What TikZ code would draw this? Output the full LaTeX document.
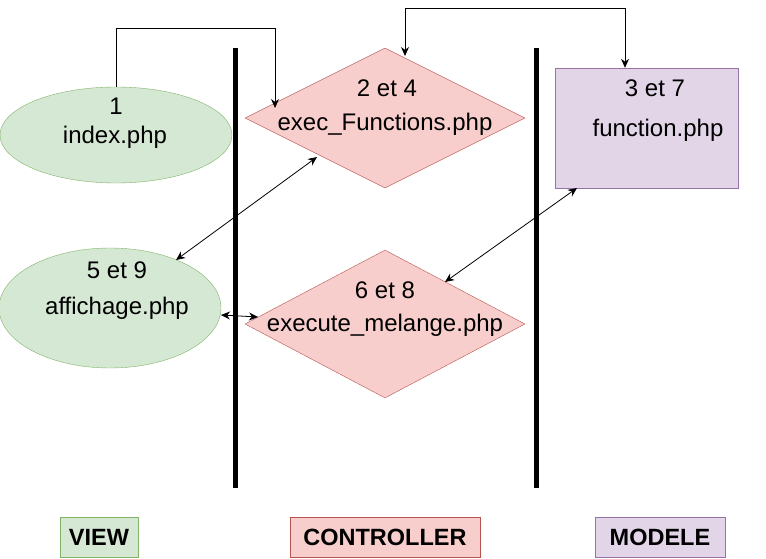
\documentclass[tikz,border=0pt]{standalone}
\usepackage{fontspec}
\setmainfont{Liberation Sans}
\usetikzlibrary{shapes.geometric,arrows.meta}
\definecolor{vfill}{HTML}{D5E8D4}\definecolor{vdraw}{HTML}{82B366}
\definecolor{cfill}{HTML}{F8CECC}\definecolor{cdraw}{HTML}{B85450}
\definecolor{mfill}{HTML}{E1D5E7}\definecolor{mdraw}{HTML}{9673A6}
\tikzset{
  txt/.style={font=\fontsize{24}{28}\selectfont, inner sep=0pt},
  viewell/.style={ellipse, draw=vdraw, fill=vfill, inner sep=0pt},
  ctrl/.style={diamond, draw=cdraw, fill=cfill, inner sep=0pt, aspect=2},
  modbox/.style={draw=mdraw, fill=mfill, inner sep=0pt},
  lbl/.style={font=\fontsize{23.5}{28}\selectfont\bfseries, inner sep=0pt, minimum height=40pt},
  sep/.style={line width=5pt},
  conn/.style={-{Stealth[length=9pt,width=8pt]}, line width=0.8pt},
  dconn/.style={{Stealth[length=9pt,width=8pt]}-{Stealth[length=9pt,width=8pt]}, line width=0.8pt},
}
\begin{document}
\begin{tikzpicture}[x=1pt,y=-1pt]
\useasboundingbox (0,0) rectangle (766,559);
% separators
\draw[sep] (235,48) coordinate (s1a) -- (235,488) coordinate (s1b);
\draw[sep] (536,48) coordinate (s2a) -- (536,488) coordinate (s2b);
% shapes
\node[viewell, minimum width=232pt, minimum height=96pt] (idx) at (116,135) {};
\node[txt] at (116,106) {1};
\node[txt] at (115,137) {index.php};
\node[viewell, minimum width=222pt, minimum height=120pt] (aff) at (110,308) {};
\node[txt] at (117,270) {5 et 9};
\node[txt] at (117,308) {affichage.php};
\node[ctrl, minimum width=280pt, minimum height=140pt] (exf) at (385,118) {};
\node[txt] at (387,88) {2 et 4};
\node[txt] at (385,124) {exec\_Functions.php};
\node[ctrl, minimum width=280pt, minimum height=148pt] (exm) at (385,324) {};
\node[txt] at (385,290) {6 et 8};
\node[txt] at (385,325) {execute\_melange.php};
\node[modbox, minimum width=183pt, minimum height=120pt] (fun) at (646.5,128) {};
\node[txt] at (655,88) {3 et 7};
\node[txt] at (658,130) {function.php};
% labels
\node[lbl, draw=vdraw, fill=vfill, minimum width=78pt] (lv) at (99,537) {VIEW};
\node[lbl, draw=cdraw, fill=cfill, minimum width=190pt] (lc) at (385,537) {CONTROLLER};
\node[lbl, draw=mdraw, fill=mfill, minimum width=130pt] (lm) at (660,537) {MODELE};
% connectors
\coordinate (c1) at (116,28);
\coordinate (c2) at (275,28);
\coordinate (c3) at (275,108);
\draw[conn] (idx.north) -- (c1) -- (c2) -- (c3);
\coordinate (t1) at (405,56);
\coordinate (t2) at (405,8);
\coordinate (t3) at (625,8);
\draw[dconn] (t1) -- (t2) -- (t3) -- (fun.north -| t3);
\coordinate (d1) at (317,157);
\coordinate (d2) at (176,260);
\draw[dconn] (d1) -- (d2);
\coordinate (e1) at (221,315);
\coordinate (e2) at (258,317);
\draw[dconn] (e1) -- (e2);
\coordinate (f1) at (577,188);
\coordinate (f2) at (445,282);
\draw[dconn] (f1) -- (f2);
\end{tikzpicture}
\end{document}
